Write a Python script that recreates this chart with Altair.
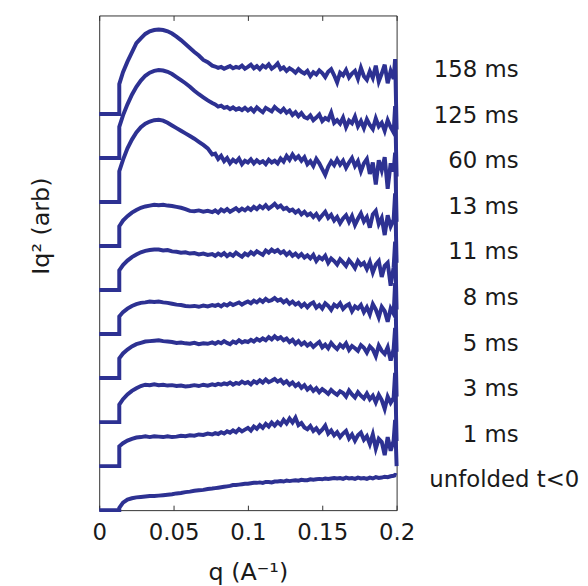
import altair as alt
import pandas as pd

# q grid (A^-1)
q = [0, 0.0135, 0.0135,
     0.016, 0.019, 0.022, 0.025, 0.028, 0.031, 0.034, 0.037, 0.040, 0.043, 0.046,
     0.049, 0.052, 0.055, 0.058, 0.061, 0.064, 0.067, 0.070, 0.073, 0.076,
     0.078, 0.080, 0.082, 0.084, 0.086, 0.088, 0.090, 0.092, 0.094, 0.096, 0.098,
     0.100, 0.102, 0.104, 0.106, 0.108, 0.110, 0.112, 0.114, 0.116, 0.118,
     0.120, 0.122, 0.124, 0.126, 0.128, 0.130, 0.132, 0.134, 0.136, 0.138,
     0.140, 0.142, 0.144, 0.146, 0.148, 0.150, 0.152, 0.154, 0.156, 0.158,
     0.160, 0.162, 0.164, 0.166, 0.168, 0.170, 0.172, 0.174, 0.176, 0.178,
     0.180, 0.182, 0.184, 0.186, 0.188, 0.190, 0.192, 0.194, 0.196, 0.198,
     0.199, 0.200]

v_158 = [0, 0, 0.68,
         0.95, 1.19, 1.40, 1.61, 1.72, 1.82, 1.88, 1.91, 1.92, 1.91, 1.88, 1.83, 1.76, 1.68, 1.59, 1.50, 1.41, 1.33, 1.23, 1.18, 1.10,
         1.08, 1.05, 1.07, 1.03, 1.06, 1.09, 1.04, 1.07, 1.05, 1.10, 1.03,
         1.07, 1.12, 1.04, 1.09, 1.02, 1.10, 1.06, 1.13, 1.03, 1.08,
         1.15, 1.02, 1.06, 0.98, 1.04, 1.00, 0.94, 1.02, 0.96, 0.92,
         0.98, 0.86, 0.95, 0.90, 0.99, 0.93, 0.84, 0.96, 1.02, 0.88,
         0.72, 0.94, 0.88, 1.00, 0.83, 0.92, 0.98, 0.80, 1.05, 0.86,
         0.78, 0.97, 0.82, 1.10, 0.74, 0.92, 1.12, 0.70, 0.98, 0.80,
         1.25, -0.35]

v_125 = [0, 0, 0.71,
         0.97, 1.22, 1.44, 1.62, 1.76, 1.87, 1.94, 1.98, 2.00, 1.99, 1.96, 1.91, 1.84, 1.77, 1.70, 1.62, 1.53, 1.45, 1.38, 1.31, 1.25,
         1.22, 1.17, 1.19, 1.14, 1.16, 1.11, 1.15, 1.10, 1.13, 1.09, 1.14,
         1.08, 1.13, 1.06, 1.15, 1.09, 1.04, 1.14, 1.10, 1.06, 1.16,
         1.10, 1.05, 1.12, 1.03, 1.08, 0.98, 1.04, 0.95, 1.02, 0.93,
         0.90, 0.97, 0.86, 0.92, 0.99, 0.84, 0.91, 0.87, 1.03, 0.80,
         0.86, 0.78, 0.92, 0.70, 0.85, 0.79, 0.94, 0.72, 0.84, 0.68,
         0.88, 0.75, 0.66, 0.90, 0.72, 0.80, 0.62, 0.86, 0.70, 0.58,
         1.18, -0.42]

v_60 = [0, 0, 0.70,
        0.96, 1.22, 1.42, 1.58, 1.70, 1.78, 1.83, 1.86, 1.87, 1.85, 1.80, 1.74, 1.68, 1.62, 1.56, 1.50, 1.44, 1.37, 1.30, 1.22, 1.08,
        1.10, 0.98, 1.05, 0.93, 1.00, 0.88, 0.96, 0.91, 0.99, 0.86, 0.94,
        0.90, 0.97, 0.88, 0.95, 0.89, 0.93, 0.86, 0.96, 0.90, 0.94,
        0.88, 0.99, 0.92, 1.05, 0.96, 1.08, 0.98, 1.04, 0.94, 1.02,
        0.86, 0.93, 0.82, 0.98, 0.88, 0.75, 0.62, 0.80, 0.92, 0.84,
        0.97, 0.85, 0.94, 0.78, 0.90, 1.00, 0.82, 0.93, 0.70, 0.88,
        0.98, 0.64, 0.90, 0.40, 0.95, 0.72, 1.02, 0.30, 0.88, 0.70,
        1.12, -0.45]

v_13 = [0, 0, 0.45,
        0.58, 0.68, 0.76, 0.82, 0.87, 0.90, 0.92, 0.94, 0.93, 0.94, 0.92, 0.91, 0.89, 0.87, 0.84, 0.80, 0.79, 0.81, 0.78, 0.80, 0.77,
        0.81, 0.76, 0.83, 0.79, 0.84, 0.78, 0.82, 0.86, 0.80, 0.85, 0.81,
        0.87, 0.82, 0.89, 0.84, 0.91, 0.86, 0.93, 0.85, 0.90, 0.96,
        0.88, 0.92, 0.84, 0.87, 0.80, 0.83, 0.76, 0.81, 0.72, 0.78,
        0.70, 0.74, 0.66, 0.73, 0.62, 0.70, 0.78, 0.64, 0.71, 0.58,
        0.66, 0.52, 0.63, 0.70, 0.55, 0.68, 0.48, 0.62, 0.74, 0.56,
        0.66, 0.42, 0.72, 0.80, 0.50, 0.64, 0.25, 0.70, 0.45, 0.60,
        1.20, -0.38]

v_11 = [0, 0, 0.45,
        0.57, 0.67, 0.75, 0.81, 0.86, 0.89, 0.91, 0.92, 0.92, 0.90, 0.91, 0.88, 0.87, 0.85, 0.86, 0.83, 0.84, 0.81, 0.83, 0.80, 0.82,
        0.78, 0.83, 0.79, 0.84, 0.77, 0.82, 0.78, 0.85, 0.80, 0.76, 0.83,
        0.79, 0.86, 0.81, 0.88, 0.84, 0.80, 0.90, 0.85, 0.92, 0.87,
        0.91, 0.84, 0.88, 0.80, 0.86, 0.78, 0.83, 0.76, 0.82, 0.74,
        0.79, 0.72, 0.80, 0.66, 0.75, 0.70, 0.78, 0.62, 0.72, 0.66,
        0.58, 0.70, 0.63, 0.55, 0.68, 0.60, 0.50, 0.66, 0.57, 0.62,
        0.48, 0.64, 0.40, 0.58, 0.66, 0.30, 0.55, 0.62, 0.10, 0.52,
        1.10, -0.44]

v_8 = [0, 0, 0.40,
       0.50, 0.58, 0.64, 0.68, 0.71, 0.72, 0.74, 0.73, 0.74, 0.72, 0.71, 0.69, 0.67, 0.66, 0.64, 0.63, 0.64, 0.62, 0.65, 0.63, 0.66,
       0.64, 0.67, 0.63, 0.68, 0.65, 0.70, 0.66, 0.69, 0.72, 0.67, 0.71,
       0.74, 0.70, 0.76, 0.72, 0.78, 0.73, 0.80, 0.75, 0.77, 0.82,
       0.76, 0.79, 0.72, 0.77, 0.69, 0.74, 0.67, 0.71, 0.63, 0.69,
       0.61, 0.68, 0.72, 0.60, 0.66, 0.58, 0.70, 0.64, 0.55, 0.67,
       0.62, 0.70, 0.57, 0.64, 0.68, 0.52, 0.63, 0.58, 0.66, 0.50,
       0.61, 0.45, 0.68, 0.56, 0.38, 0.62, 0.52, 0.28, 0.58, 0.46,
       1.16, -0.40]

v_5 = [0, 0, 0.45,
       0.56, 0.65, 0.72, 0.77, 0.80, 0.83, 0.84, 0.85, 0.86, 0.84, 0.83, 0.82, 0.80, 0.81, 0.79, 0.78, 0.80, 0.77, 0.79, 0.78, 0.81,
       0.78, 0.82, 0.79, 0.84, 0.80, 0.77, 0.83, 0.80, 0.86, 0.81, 0.84,
       0.82, 0.87, 0.83, 0.89, 0.85, 0.90, 0.86, 0.93, 0.88, 0.95,
       0.89, 0.93, 0.86, 0.90, 0.82, 0.87, 0.78, 0.84, 0.76, 0.81,
       0.74, 0.79, 0.71, 0.77, 0.82, 0.70, 0.76, 0.68, 0.80, 0.72,
       0.66, 0.76, 0.70, 0.79, 0.64, 0.73, 0.68, 0.62, 0.75, 0.69,
       0.58, 0.72, 0.65, 0.50, 0.74, 0.62, 0.55, 0.70, 0.40, 0.66,
       1.14, -0.42]

v_3 = [0, 0, 0.40,
       0.52, 0.63, 0.71, 0.77, 0.82, 0.85, 0.84, 0.86, 0.84, 0.85, 0.83, 0.84, 0.82, 0.83, 0.81, 0.82, 0.84, 0.82, 0.85, 0.83, 0.86,
       0.84, 0.87, 0.85, 0.88, 0.86, 0.90, 0.85, 0.89, 0.87, 0.92, 0.88,
       0.91, 0.86, 0.93, 0.89, 0.95, 0.90, 0.97, 0.91, 0.94, 0.98,
       0.92, 0.96, 0.88, 0.93, 0.85, 0.90, 0.82, 0.87, 0.78, 0.84,
       0.74, 0.80, 0.71, 0.77, 0.68, 0.75, 0.70, 0.64, 0.73, 0.67,
       0.62, 0.70, 0.66, 0.58, 0.72, 0.63, 0.56, 0.68, 0.60, 0.54,
       0.65, 0.52, 0.60, 0.45, 0.62, 0.50, 0.30, 0.58, 0.44, 0.55,
       1.12, -0.43]

v_1 = [0, 0, 0.45,
       0.52, 0.58, 0.62, 0.65, 0.66, 0.68, 0.66, 0.68, 0.67, 0.66, 0.68, 0.66, 0.67, 0.69, 0.68, 0.70, 0.69, 0.72, 0.71, 0.74, 0.72,
       0.75, 0.73, 0.77, 0.74, 0.79, 0.76, 0.81, 0.77, 0.84, 0.79, 0.83,
       0.87, 0.81, 0.90, 0.85, 0.93, 0.87, 0.96, 0.90, 0.99, 0.92,
       1.00, 0.94, 1.05, 0.97, 1.08, 0.99, 1.10, 0.93, 0.98, 0.88,
       0.84, 0.91, 0.80, 0.86, 0.76, 0.83, 0.92, 0.74, 0.81, 0.70,
       0.77, 0.66, 0.74, 0.80, 0.63, 0.72, 0.58, 0.70, 0.76, 0.60,
       0.68, 0.50, 0.72, 0.40, 0.62, 0.55, 0.25, 0.66, 0.35, 0.58,
       1.05, 0.0]

v_unf = [0, 0, 0.05,
         0.17, 0.24, 0.27, 0.29, 0.30, 0.31, 0.32, 0.32, 0.33, 0.34, 0.35, 0.36, 0.38, 0.39, 0.41, 0.42, 0.44, 0.45, 0.46, 0.48, 0.49,
         0.50, 0.51, 0.52, 0.53, 0.54, 0.55, 0.57, 0.57, 0.58, 0.59, 0.60,
         0.60, 0.61, 0.62, 0.62, 0.63, 0.62, 0.64, 0.64, 0.63, 0.65,
         0.65, 0.66, 0.65, 0.67, 0.66, 0.67, 0.68, 0.67, 0.69, 0.68,
         0.68, 0.70, 0.69, 0.70, 0.71, 0.70, 0.72, 0.71, 0.72, 0.73,
         0.72, 0.73, 0.71, 0.74, 0.72, 0.73, 0.71, 0.74, 0.72, 0.73,
         0.71, 0.74, 0.72, 0.75, 0.73, 0.74, 0.76, 0.75, 0.77, 0.78,
         0.80, 0.79]

labels = ["unfolded t<0", "1 ms", "3 ms", "5 ms", "8 ms", "11 ms", "13 ms", "60 ms", "125 ms", "158 ms"]
offsets = [0, 1, 2, 3, 4, 5, 6, 7, 8, 9]
curves = [v_unf, v_1, v_3, v_5, v_8, v_11, v_13, v_60, v_125, v_158]
label_y = [0.68, 1.71, 2.75, 3.78, 4.82, 5.86, 6.89, 7.93, 8.96, 10.0]
x_ticks = [0, 0.05, 0.1, 0.15, 0.2]

rows = []
for name, off, vals in zip(labels, offsets, curves):
    assert len(vals) == len(q), (name, len(vals), len(q))
    for i, (qq, v) in enumerate(zip(q, vals)):
        rows.append({"series": name, "i": i, "q": qq, "y": off + v})
df = pd.DataFrame(rows)

lab_df = pd.DataFrame({"label": labels, "y": label_y})
lab_df["lx"] = [0.222 if l.startswith("unfolded") else 0.282 for l in labels]

FONT = "DejaVu Sans"
BLUE = "#2d3192"
INK = "#1a1a1a"

xscale = alt.Scale(domain=[0, 0.2], nice=False, zero=False)
yscale = alt.Scale(domain=[0, 11.24], nice=False, zero=False)

y_axis = alt.Axis(ticks=False, labels=False, domain=False, grid=False,
                  title="Iq² (arb)", titlePadding=46, titleY=212)
y_enc = alt.Y("y:Q", scale=yscale, axis=y_axis, title="Iq² (arb)")

lines = alt.Chart(df).mark_line(color=BLUE, strokeWidth=4).encode(
    x=alt.X("q:Q", scale=xscale,
            axis=alt.Axis(values=x_ticks, format="~g", tickSize=5, offset=-5,
                          domain=False, grid=False, labelPadding=12, labelFlush=False,
                          title="q (A⁻¹)", titlePadding=16)),
    y=y_enc,
    detail="series:N",
    order="i:Q",
)

ms_text = alt.Chart(lab_df[lab_df["lx"] > 0.25]).mark_text(
    align="right", baseline="middle", font=FONT, fontSize=23, color=INK
).encode(
    x=alt.X("lx:Q", scale=xscale,
            axis=alt.Axis(orient="top", values=x_ticks, labels=False, tickSize=5,
                          offset=-5, domain=False, grid=False, title=None)),
    y=y_enc,
    text="label:N",
)

unf_text = alt.Chart(lab_df[lab_df["lx"] < 0.25]).mark_text(
    align="left", baseline="middle", font=FONT, fontSize=23, color=INK
).encode(
    x=alt.X("lx:Q", scale=xscale, axis=None),
    y=y_enc,
    text="label:N",
)

chart = alt.layer(lines, ms_text, unf_text).resolve_axis(x="independent").properties(
    width=300, height=499,
    autosize=alt.AutoSizeParams(type="none"),
    padding={"left": 92, "top": 5, "right": 185, "bottom": 74},
).configure_view(stroke="#333333", strokeWidth=1).configure_axis(
    labelFont=FONT, titleFont=FONT, labelFontSize=23, titleFontSize=24,
    labelColor=INK, titleColor=INK, tickColor="#333333", tickWidth=1,
    titleFontWeight="normal",
)

chart.save("out.html", embed_options={"renderer": "svg", "actions": False})
